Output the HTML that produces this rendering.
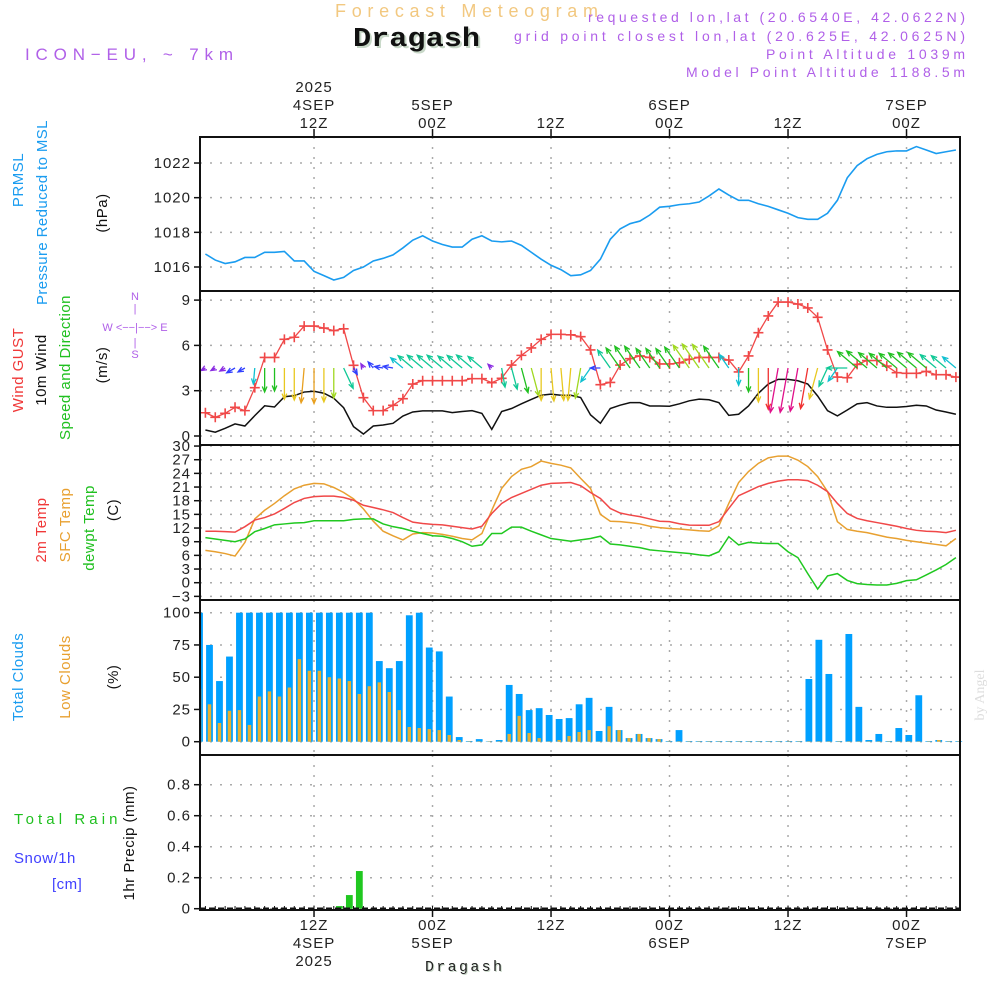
<!DOCTYPE html>
<html><head><meta charset="utf-8"><title>Meteogram Dragash</title>
<style>
html,body{margin:0;padding:0;background:#fff;}
svg{display:block;font-family:"Liberation Sans",sans-serif;}
.tk{font-size:15px;fill:#222;letter-spacing:1px}
.lab{font-size:15px;letter-spacing:0.5px}
</style></head>
<body>
<svg id="chart" width="1000" height="1000" viewBox="0 0 1000 1000" xmlns="http://www.w3.org/2000/svg">
<rect x="0" y="0" width="1000" height="1000" fill="#fff"/>
<text x="335" y="17" font-size="18" fill="#f2c880" textLength="263" lengthAdjust="spacing">Forecast Meteogram</text>
<text x="355" y="48" font-size="27" font-weight="bold" font-family="Liberation Mono, monospace" fill="#c8d8c8" textLength="127" lengthAdjust="spacingAndGlyphs">Dragash</text>
<text x="353" y="46" font-size="27" font-weight="bold" font-family="Liberation Mono, monospace" fill="#111" textLength="127" lengthAdjust="spacingAndGlyphs">Dragash</text>
<text x="25" y="60" font-size="17" fill="#b060e8" textLength="208" lengthAdjust="spacing">ICON−EU, ~ 7km</text>
<g font-size="14" fill="#b060e8">
<text x="588" y="22" textLength="377" lengthAdjust="spacing">requested lon,lat (20.6540E, 42.0622N)</text>
<text x="514" y="41" textLength="451" lengthAdjust="spacing">grid point closest lon,lat (20.625E, 42.0625N)</text>
<text x="766" y="59" textLength="199" lengthAdjust="spacing">Point Altitude 1039m</text>
<text x="686" y="77" textLength="279" lengthAdjust="spacing">Model Point Altitude 1188.5m</text>
</g>
<text transform="translate(984,695) rotate(-90)" font-size="14" fill="#ddd" font-family="Liberation Serif, serif" text-anchor="middle">by Angel</text>

<g class="lab">
<text transform="translate(23,180) rotate(-90)" text-anchor="middle" fill="#1a9cf0">PRMSL</text>
<text transform="translate(47,305) rotate(-90)" fill="#1a9cf0" textLength="185" lengthAdjust="spacing">Pressure Reduced to MSL</text>
<text transform="translate(107,213) rotate(-90)" text-anchor="middle" fill="#111">(hPa)</text>
</g>
<g class="lab">
<text transform="translate(23,370) rotate(-90)" text-anchor="middle" fill="#f03838">Wind GUST</text>
<text transform="translate(46,370) rotate(-90)" text-anchor="middle" fill="#111">10m Wind</text>
<text transform="translate(70,440) rotate(-90)" fill="#20c020" textLength="145" lengthAdjust="spacing">Speed and Direction</text>
<text transform="translate(107,365) rotate(-90)" text-anchor="middle" fill="#111">(m/s)</text>
</g>
<g font-size="11" fill="#b060e8">
<text x="135" y="300" text-anchor="middle">N</text>
<text x="135" y="312" text-anchor="middle">|</text>
<text x="135" y="331" text-anchor="middle">W  &lt;−−|−−&gt;  E</text>
<text x="135" y="346" text-anchor="middle">|</text>
<text x="135" y="358" text-anchor="middle">S</text>
</g>
<g class="lab">
<text transform="translate(46,530) rotate(-90)" text-anchor="middle" fill="#f03838">2m Temp</text>
<text transform="translate(70,525) rotate(-90)" text-anchor="middle" fill="#e8a030">SFC Temp</text>
<text transform="translate(94,528) rotate(-90)" text-anchor="middle" fill="#20c020">dewpt Temp</text>
<text transform="translate(118,510) rotate(-90)" text-anchor="middle" fill="#111">(C)</text>
</g>
<g class="lab">
<text transform="translate(23,677) rotate(-90)" text-anchor="middle" fill="#1a9cf0">Total Clouds</text>
<text transform="translate(70,677) rotate(-90)" text-anchor="middle" fill="#e8a030">Low Clouds</text>
<text transform="translate(118,677) rotate(-90)" text-anchor="middle" fill="#111">(%)</text>
</g>
<g class="lab">
<text transform="translate(134,843) rotate(-90)" text-anchor="middle" fill="#111">1hr Precip (mm)</text>
<text x="14" y="824" fill="#20c020" textLength="104" lengthAdjust="spacing">Total  Rain</text>
<text x="14" y="863" fill="#4040ff">Snow/1h</text>
<text x="52" y="889" fill="#4040ff">[cm]</text>
</g>
<text x="426" y="972" font-size="15" font-family="Liberation Mono, monospace" fill="#c8d8c8" textLength="77" lengthAdjust="spacing">Dragash</text>
<text x="425" y="971" font-size="15" font-family="Liberation Mono, monospace" fill="#222" textLength="77" lengthAdjust="spacing">Dragash</text>
<g id="plot"></g>
</svg>
<script>
const hours = Array.from({length:77},(_,i)=>i);
const pressure = [1016.75,1016.4,1016.2,1016.3,1016.55,1016.55,1016.85,1016.85,1016.9,1016.35,1016.35,1015.75,1015.5,1015.25,1015.4,1015.8,1016.0,1016.35,1016.5,1016.7,1017.1,1017.55,1017.8,1017.5,1017.3,1017.15,1017.15,1017.6,1017.8,1017.5,1017.45,1017.5,1017.25,1016.85,1016.45,1016.1,1015.85,1015.5,1015.55,1015.8,
1016.45,1017.6,1018.2,1018.5,1018.65,1019.0,1019.45,1019.5,1019.6,1019.65,1019.75,1020.1,1020.5,1020.15,1019.85,1019.85,1019.65,1019.5,1019.3,1019.1,1018.85,1018.75,1018.75,1019.1,1019.85,1021.15,1021.85,1022.25,1022.5,1022.65,1022.7,1022.7,1022.95,1022.75,1022.55,1022.65,1022.75];
const gust = [1.54,1.24,1.5,1.9,1.68,3.2,5.2,5.2,6.4,6.54,7.28,7.28,7.15,6.98,7.1,4.68,2.54,1.68,1.68,2.03,2.47,3.44,3.66,3.66,3.66,3.66,3.66,3.8,3.8,3.53,3.82,4.7,5.34,5.83,6.4,6.73,6.73,6.7,6.58,5.7,
3.4,3.55,4.7,5.12,5.3,5.2,4.77,4.77,4.85,5.08,5.2,5.2,5.2,5.03,4.24,5.3,6.84,7.95,8.87,8.87,8.74,8.48,7.86,5.7,3.9,3.86,4.74,5.0,5.0,4.63,4.19,4.15,4.15,4.28,4.06,4.06,3.9];
const wind = [0.4,0.25,0.51,0.8,0.66,1.35,2.0,1.92,2.6,2.67,2.91,2.96,2.83,2.5,1.87,0.62,0.13,0.66,0.73,0.84,1.32,1.59,1.66,1.66,1.66,1.55,1.62,1.68,1.5,0.44,1.62,1.82,2.13,2.42,2.7,2.77,2.7,2.7,2.55,1.4,
0.84,1.82,2.04,2.21,2.21,1.99,1.99,1.97,2.13,2.33,2.44,2.4,2.21,1.37,1.44,1.99,2.83,3.44,3.75,3.75,3.66,3.44,2.65,1.68,1.33,1.72,2.13,2.21,1.99,1.9,1.9,1.95,2.04,1.99,1.72,1.59,1.44];
const windDir = [60,60,60,60,60,5,0,0,0,0,5,0,0,0,335,330,150,140,100,100,130,130,130,130,130,130,130,130,130,135,350,345,345,345,0,355,355,5,10,35,
90,145,145,145,145,145,145,145,145,145,145,145,145,145,0,0,0,0,10,10,10,10,15,25,35,90,130,130,130,130,130,130,130,130,130,130,130];
const temp2m = [11.3,11.3,11.2,11.1,12.3,13.75,14.3,15.1,16.3,17.6,18.5,18.9,19.0,19.0,18.7,18.1,17.0,16.5,16.0,15.4,14.3,13.3,13.0,12.8,12.7,12.4,12.1,11.8,12.4,15.2,17.4,18.7,19.6,20.5,21.4,21.8,21.9,22.0,21.3,19.8,
18.5,16.3,15.3,14.85,14.5,14.0,13.5,13.4,12.95,12.65,12.6,12.6,13.4,16.3,19.1,20.1,21.1,21.8,22.3,22.6,22.6,22.4,21.4,20.0,17.4,15.2,14.1,13.6,13.2,12.8,12.4,11.9,11.5,11.3,11.2,11.0,11.5];
const tempSfc = [7.1,6.8,6.4,5.85,8.85,14.0,15.9,17.4,19.1,20.6,21.4,21.8,21.7,20.9,19.8,18.4,16.2,13.5,11.3,10.3,9.4,10.7,11.0,10.9,10.6,10.2,9.7,9.4,10.8,15.9,20.7,23.3,24.9,25.5,26.7,26.2,25.8,25.2,22.9,20.7,
15.0,13.5,13.4,13.2,12.9,12.4,12.1,11.9,11.8,11.6,11.4,11.3,12.5,17.4,22.0,24.4,26.2,27.4,27.8,27.8,26.9,25.5,23.3,20.0,13.4,11.7,11.3,11.0,10.5,10.0,9.7,9.3,9.0,8.7,8.4,8.1,9.7];
const tempDew = [9.9,9.6,9.3,9.0,9.6,11.2,11.9,12.7,12.9,13.1,13.2,13.6,13.6,13.6,13.6,13.9,14.0,14.0,12.9,12.3,11.9,11.3,10.8,10.3,10.2,9.7,9.0,8.0,8.3,10.8,10.8,12.2,12.2,11.3,10.5,9.7,9.4,9.1,9.4,9.7,
10.2,8.5,8.3,8.0,7.7,7.2,7.0,6.8,6.6,6.4,6.1,5.9,6.8,10.1,8.3,8.85,8.7,8.6,8.6,6.8,5.5,2.0,-1.4,1.5,2.0,0.5,-0.2,-0.4,-0.5,-0.5,-0.15,0.45,0.65,1.7,2.8,4.0,5.5];
const totalCloud = [100,75,47,66,100,100,100,100,100,100,100,100,100,100,100,100,100,100,62.5,57,62.5,98,100,73,70,35,3.6,0.5,2,0.3,1.3,44,37,24.5,26,20.7,17.6,18.3,29,34,
8.3,27,9,2.8,6,2.8,2,0.5,9,0.5,0.5,0.5,0.5,0.5,0.5,0.5,0.5,0.5,0.5,0.5,0.5,48.6,79,52.5,0.5,83.5,27,1.3,6,0.5,10.6,5.2,36,0.5,1.3,0.5,0.5];
const lowCloud = [41,29,14.5,24,24.5,13,35,39,35,42,64,55,55,50,49,47,37,43,46,38.5,24.5,11.4,10.6,9.8,9,5.2,1.3,0.3,0.3,0.3,0.3,6,20,6.7,2.8,0.3,1.3,4.4,7.5,9,
0.3,12,9,2.8,6,2.8,2,0.3,0.3,0.3,0.3,0.3,0.3,0.3,0.3,0.3,0.3,0.3,0.3,0.3,0.3,0.3,0.3,0.3,0.3,0.3,0.3,0.3,0.3,0.3,0.3,0.3,0.3,0.3,1.3,0.3,0.3];
const precip = [0,0,0,0,0,0,0,0,0,0,0,0,0,0,0.017,0.088,0.243,0,0,0,0,0,0,0,0,0,0,0,0,0,0,0,0,0,0,0,0,0,0,0,
0,0,0,0,0,0,0,0,0,0,0,0,0,0,0,0,0,0,0,0,0,0,0,0,0,0,0,0,0,0,0,0,0,0,0,0,0];
const pTicks = [1016,1018,1020,1022];
const wTicks = [0,3,6,9];
const tTicks = [-3,0,3,6,9,12,15,18,21,24,27,30];
const cTicks = [0,25,50,75,100];
const rTicks = [0,0.2,0.4,0.6,0.8];
const majorHours = [11,23,35,47,59,71];
const topLabels = [["2025","4SEP","12Z"],["","5SEP","00Z"],["","","12Z"],["","6SEP","00Z"],["","","12Z"],["","7SEP","00Z"]];
const bottomLabels = [["12Z","4SEP","2025"],["00Z","5SEP",""],["12Z","",""],["00Z","6SEP",""],["12Z","",""],["00Z","7SEP",""]];

const NS='http://www.w3.org/2000/svg';
const plot=document.getElementById('plot');
const L=200,R=960;
const x=i=>205.4+i*9.875;
const xb=i=>199.5+i*9.99;
const yP=v=>267-(v-1016)*17.33;
const yW=v=>436-v*15.1;
const yT=v=>582.7-v*4.555;
const yC=v=>741.7-v*1.29;
const yR=v=>908.7-v*155;
function mk(tag,attrs,parent){const e=document.createElementNS(NS,tag);for(const k in attrs)e.setAttribute(k,attrs[k]);(parent||plot).appendChild(e);return e;}

const panels=[[137,291,'pressure-panel',pTicks,yP],[291,445,'wind-panel',wTicks,yW],[445,600,'temperature-panel',tTicks,yT],[600,755,'cloud-panel',cTicks,yC],[755,910,'precip-panel',rTicks,yR]];
panels.forEach(p=>{
  const g=mk('g',{});
  
  
  p[3].forEach(t=>{
    const yy=p[4](t);
    mk('line',{x1:L,x2:R,y1:yy,y2:yy,stroke:'#aaa','stroke-width':1.5,'stroke-dasharray':'2 8'},g);
    mk('line',{x1:L-6,x2:L,y1:yy,y2:yy,stroke:'#111','stroke-width':1.5},g);
    const tx=mk('text',{x:L-9,y:yy+5,'text-anchor':'end',class:'tk'},g);
    
    
    tx.textContent=(p[2]==='precip-panel'&&t!==0)?t.toFixed(1):(t<0?'−'+(-t):String(t));
  });
  majorHours.forEach(h=>mk('line',{x1:x(h),x2:x(h),y1:p[0],y2:p[1],stroke:'#aaa','stroke-width':1.5,'stroke-dasharray':'2 8'},g));
});

const pl=mk('polyline',{points:pressure.map((v,i)=>x(i)+','+yP(v)).join(' '),fill:'none',stroke:'#1a9cf0','stroke-width':1.6});



const wl=mk('polyline',{points:wind.map((v,i)=>x(i)+','+yW(v)).join(' '),fill:'none',stroke:'#111','stroke-width':1.5});


const gl=mk('polyline',{points:gust.map((v,i)=>x(i)+','+yW(v)).join(' '),fill:'none',stroke:'#f04848','stroke-width':1.3});


gust.forEach((v,i)=>{
  const m=mk('path',{d:`M${x(i)-5},${yW(v)}h10M${x(i)},${yW(v)-5}v10`,stroke:'#f04848','stroke-width':1.6});
  
  
});
function wcol(s){if(s<0.6)return'#8a2be2';if(s<1.2)return'#3040ff';if(s<1.5)return'#10c0d0';if(s<1.9)return'#10c896';if(s<2.3)return'#20c020';if(s<2.6)return'#a0d820';if(s<2.85)return'#e8c820';if(s<3.2)return'#e8a020';if(s<3.6)return'#f03030';return'#e0108a';}
wind.forEach((s,i)=>{
  const to=(windDir[i]+180)*Math.PI/180;
  const len=Math.max(s*12,5);
  const x0=x(i),y0=368;
  const x1=x0+Math.sin(to)*len,y1=y0-Math.cos(to)*len;
  const a1=to+Math.PI-0.4,a2=to+Math.PI+0.4,h=6;
  const d=`M${x0},${y0}L${x1},${y1}M${x1+Math.sin(a1)*h},${y1-Math.cos(a1)*h}L${x1},${y1}L${x1+Math.sin(a2)*h},${y1-Math.cos(a2)*h}`;
  const ar=mk('path',{d:d,fill:'none',stroke:wcol(s),'stroke-width':1.3});
  
  
});

[[tempSfc,'#e8a030','sfc-temp-line'],[temp2m,'#f04848','temp-2m-line'],[tempDew,'#20c820','dewpoint-line']].forEach(s=>{
  const l=mk('polyline',{points:s[0].map((v,i)=>x(i)+','+yT(v)).join(' '),fill:'none',stroke:s[1],'stroke-width':1.5});
  
  
});

totalCloud.forEach((v,i)=>{
  const bx=Math.max(xb(i)-3.4,L);
  const b=mk('rect',{x:bx,y:yC(v),width:xb(i)+3.4-bx,height:yC(0)-yC(v),fill:'#00a0ff'});
  
  
});
lowCloud.forEach((v,i)=>{
  const bx=Math.max(xb(i)-1.7,L);
  const b=mk('rect',{x:bx,y:yC(v),width:xb(i)+1.7-bx,height:yC(0)-yC(v),fill:'#e8b030'});
  
  
});

precip.forEach((v,i)=>{
  if(v<=0)return;
  const b=mk('rect',{x:xb(i)-3.4,y:yR(v),width:6.8,height:yR(0)-yR(v),fill:'#20c820'});
  
  
});
mk('line',{x1:L,x2:R,y1:908.5,y2:908.5,stroke:'#111','stroke-width':2,'stroke-dasharray':'6 3'});

panels.forEach(p=>{
  const fr=mk('rect',{x:L,y:p[0],width:R-L,height:p[1]-p[0],fill:'none',stroke:'#111','stroke-width':2});
  
  
});
hours.forEach(i=>mk('line',{x1:x(i),x2:x(i),y1:906,y2:910,stroke:'#111','stroke-width':1}));
majorHours.forEach((h,k)=>{
  mk('line',{x1:x(h),x2:x(h),y1:129,y2:137,stroke:'#111','stroke-width':1.5});
  mk('line',{x1:x(h),x2:x(h),y1:910,y2:917,stroke:'#111','stroke-width':1.5});
  topLabels[k].forEach((t,r)=>{if(!t)return;
    const tx=mk('text',{x:x(h),y:92+r*18,'text-anchor':'middle',class:'tk','font-size':'17'});
    
    
    tx.textContent=t;});
  bottomLabels[k].forEach((t,r)=>{if(!t)return;
    const tx=mk('text',{x:x(h),y:930+r*18,'text-anchor':'middle',class:'tk','font-size':'17'});
    
    
    tx.textContent=t;});
});
</script>
</body></html>
